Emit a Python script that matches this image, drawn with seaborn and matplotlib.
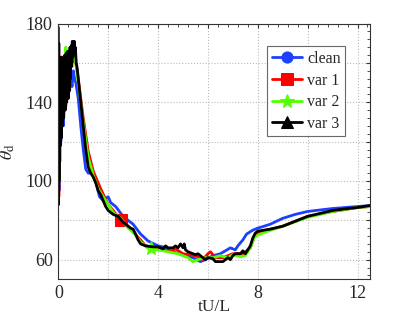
import numpy as np
import matplotlib
matplotlib.use("Agg")
import matplotlib.pyplot as plt
import seaborn as sns
from matplotlib.ticker import MultipleLocator

# ---- data ----
t_clean = [0.0, 0.03, 0.06, 0.1, 0.15, 0.2, 0.25, 0.3, 0.35, 0.4, 0.45, 0.5, 0.55, 0.6, 0.65, 0.7,
           0.8, 0.9, 1.0, 1.1, 1.2, 1.35, 1.5, 1.65, 1.8, 2.0, 2.1, 2.3, 2.6, 3.0, 3.3, 3.6, 4.0,
           4.2, 4.6, 5.1, 5.4, 5.7, 5.9, 6.2, 6.5, 6.9, 7.1, 7.2, 7.4, 7.55, 7.8, 8.0, 8.5, 9.0,
           9.5, 10.0, 11.0, 12.0, 12.5]
y_clean = [150, 95, 135, 120, 140, 128, 145, 138, 148, 142, 150, 152, 148, 156, 152, 150,
           142, 128, 116, 106, 104, 104, 100, 92, 90, 92, 89, 87, 82, 78, 73, 69.5, 67,
           66.5, 64, 62, 61, 59, 60, 62, 63, 66, 65, 67, 70, 73, 75, 76, 78, 81,
           83, 84.5, 86, 87, 87.5]

t_var1 = [0.0, 0.02, 0.04, 0.06, 0.08, 0.1, 0.13, 0.16, 0.2, 0.25, 0.3, 0.35, 0.4, 0.45, 0.5,
          0.55, 0.6, 0.65, 0.7, 0.8, 0.9, 1.0, 1.2, 1.4, 1.7, 2.0, 2.2, 2.5, 2.8, 3.0, 3.3,
          3.5, 4.0, 4.5, 4.7, 5.0, 5.5, 5.8, 6.0, 6.1, 6.3, 6.6, 7.0, 7.4, 7.7, 7.9, 8.2,
          9.0, 10.0, 11.0, 12.0, 12.5]
y_var1 = [140, 92, 150, 110, 158, 125, 160, 135, 163, 145, 160, 150, 166, 155, 168, 160,
          168, 162, 160, 152, 142, 132, 115, 105, 96, 88, 85, 80, 77, 74, 70,
          67, 66, 64, 65.5, 63, 62, 60, 63, 64, 61, 61, 63, 63, 66, 73, 74.5,
          77, 82, 84.5, 86.5, 87]

t_var2 = [0.0, 0.03, 0.06, 0.1, 0.15, 0.2, 0.25, 0.3, 0.35, 0.4, 0.45, 0.5, 0.55, 0.6, 0.65, 0.7,
          0.8, 0.9, 1.0, 1.2, 1.4, 1.6, 1.8, 2.0, 2.2, 2.5, 2.8, 3.0, 3.3, 3.6, 3.73, 3.8, 4.0,
          4.4, 4.8, 5.2, 5.4, 5.6, 5.9, 6.2, 6.5, 6.8, 7.0, 7.3, 7.5, 7.7, 7.85, 8.0, 8.3,
          9.0, 10.0, 11.0, 12.0, 12.5]
y_var2 = [130, 100, 145, 150, 140, 160, 150, 168, 155, 160, 150, 165, 158, 168, 163, 160,
          150, 140, 130, 112, 103, 96, 92, 88, 84, 81, 76, 74, 69, 66, 66, 65, 65,
          64, 63, 61, 59, 60, 61, 61, 62, 61, 62.5, 61.5, 62, 66, 71, 72.5, 74,
          77, 81.5, 84.5, 86.5, 87]

t_var3 = [0.0, 0.005, 0.01, 0.015, 0.02, 0.03, 0.04, 0.05, 0.06, 0.07, 0.08, 0.09, 0.1,
          0.11, 0.12, 0.13, 0.14, 0.15, 0.16, 0.17, 0.18, 0.19, 0.2, 0.215, 0.23, 0.245,
          0.26, 0.275, 0.29, 0.305, 0.32, 0.335, 0.35, 0.365, 0.38, 0.395, 0.41, 0.425,
          0.44, 0.455, 0.47, 0.485, 0.5, 0.515, 0.53, 0.545, 0.56, 0.58, 0.6, 0.62, 0.64,
          0.66, 0.68, 0.72, 0.76, 0.8, 0.9, 1.0, 1.1, 1.2, 1.3, 1.4, 1.5, 1.6, 1.7, 1.8,
          1.9, 2.0, 2.2, 2.4, 2.6, 2.8, 2.9, 3.0, 3.1, 3.2, 3.3, 3.5, 3.8, 4.0, 4.2, 4.3,
          4.4, 4.6, 4.7, 4.8, 4.9, 5.0, 5.05, 5.1, 5.2, 5.4, 5.5, 5.6, 5.8, 5.9, 6.0, 6.2,
          6.3, 6.5, 6.6, 6.8, 6.9, 7.0, 7.1, 7.3, 7.4, 7.5, 7.6, 7.7, 7.8, 7.9, 8.0, 8.5,
          9.0, 9.3, 9.6, 10.0, 10.5, 11.0, 11.5, 12.0, 12.5]
y_var3 = [178, 120, 88, 150, 170, 100, 160, 110, 155, 125, 162, 118, 158,
          128, 163, 122, 150, 135, 160, 128, 152, 138, 162, 132, 158, 140,
          164, 136, 160, 145, 165, 140, 162, 148, 166, 142, 163, 150, 166, 146,
          168, 152, 166, 158, 169, 160, 171, 163, 170, 165, 171,
          166, 168, 160, 157, 152, 140, 128, 116, 107, 104, 102, 99, 95, 93, 90,
          87, 85, 83, 82, 79, 77, 76, 75.5, 73, 70, 68, 67, 66.5, 66.5, 65.5, 67,
          66, 66, 67, 66, 68, 66, 68, 65, 64, 63, 62.5, 63, 61, 60, 61, 60.5,
          59, 59, 59, 61, 60, 62, 63, 63, 64.5, 63, 65, 67, 71, 73.5, 74.5, 75.5,
          77, 78.5, 80, 82, 83.5, 85, 85.8, 86.5, 87.5]

series = ["clean", "var 1", "var 2", "var 3"]
colors = ["#1f3fff", "#ff0000", "#55ff00", "#000000"]
markers = ["o", "s", "*", "^"]

sns.set_style("white")
plt.rcParams['font.family'] = ['Liberation Serif', 'DejaVu Serif']
plt.rcParams['mathtext.fontset'] = 'stix'

fig = plt.figure(figsize=(4.09, 3.15), dpi=100)
ax = fig.add_axes([0.1426, 0.1133, 0.762, 0.8117])

data_t = [t_clean, t_var1, t_var2, t_var3]
data_y = [y_clean, y_var1, y_var2, y_var3]
# only the red square and the green star are visible on the curves
mark_at = [None, 2.5, 3.73, None]
sizes = [8, 9, 10, 8]

for name, tt, yy, c, m, mt, ms in zip(series, data_t, data_y, colors, markers, mark_at, sizes):
    tt = np.array(tt)
    every = [] if mt is None else [int(np.argmin(np.abs(tt - mt)))]
    sns.lineplot(x=tt, y=yy, ax=ax, color=c, linewidth=2.0, sort=False, estimator=None,
                 marker=m, markersize=ms, markevery=every, markeredgecolor=c,
                 label=name)

ax.set_xlim(0, 12.5)
ax.set_ylim(50, 180)
ax.set_xticks(np.arange(0, 13, 2))
ax.set_xticklabels(['0', '', '4', '', '8', '', '12'])
ax.set_yticks(np.arange(60, 181, 20))
ax.set_yticklabels(['60', '', '100', '', '140', '', '180'])
ax.xaxis.set_minor_locator(MultipleLocator(0.4))
ax.yaxis.set_minor_locator(MultipleLocator(4))
ax.tick_params(which='both', direction='in', top=True, right=True, labelsize=13, pad=4,
               color='#333333')
ax.tick_params(which='major', length=3)
ax.tick_params(which='minor', length=2)
ax.grid(True, which='major', linestyle=':', color='#bbbbbb', linewidth=0.8)
for s in ax.spines.values():
    s.set_color('#333333')
    s.set_linewidth(0.8)

ax.set_xlabel('tU/L', fontsize=12.5, labelpad=-2)
ax.set_ylabel(r'$\theta_{\rm d}$', fontsize=13, labelpad=6)

leg = ax.legend(loc='upper left', bbox_to_anchor=(0.67, 0.912), borderaxespad=0,
                fontsize=11.5, frameon=True, fancybox=False, handlelength=1.9,
                handletextpad=0.3, labelspacing=0.35, borderpad=0.3)
leg.get_frame().set_edgecolor('#444444')
leg.get_frame().set_linewidth(0.8)

fig.savefig('out.png', dpi=100)
